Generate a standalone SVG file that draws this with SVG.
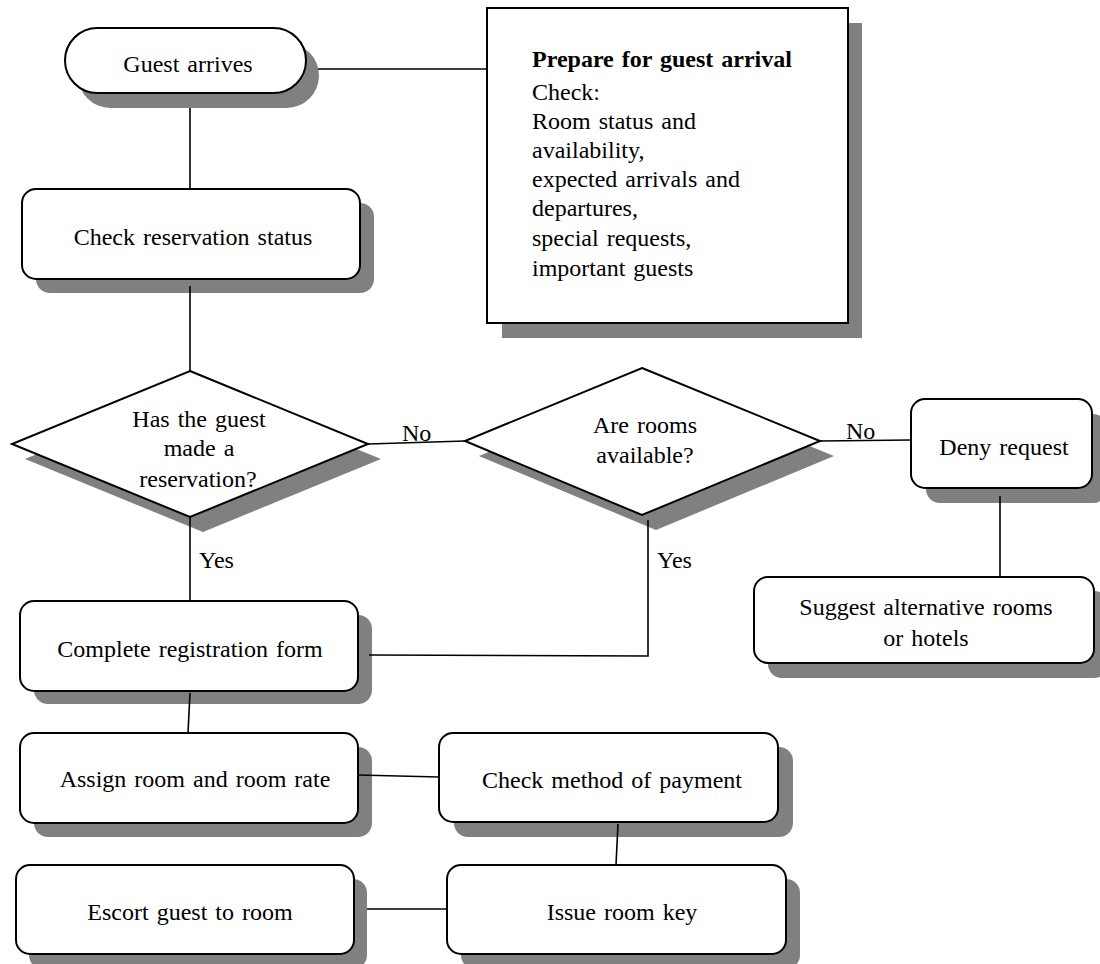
<svg xmlns="http://www.w3.org/2000/svg" width="1100" height="964" viewBox="0 0 1100 964">
<style>
.sh{fill:#808080;stroke:none}
.bx{fill:#fff;stroke:#000;stroke-width:2}
.t{font-family:"Liberation Serif","Times New Roman",serif;font-size:24px;fill:#000;word-spacing:2px}
.c{text-anchor:middle}
.b{font-weight:bold}
.ln{stroke:#000;stroke-width:1.6;fill:none}
</style>
<rect width="1100" height="964" fill="#fff"/>
<g id="guest-arrives">
<rect class="sh" x="78" y="43" width="241" height="65" rx="32.5"/>
<rect class="bx" x="65" y="28" width="241" height="65" rx="32.5"/>
<text class="t c" x="188" y="72">Guest arrives</text>
</g>
<g id="prepare">
<rect class="sh" x="502" y="23" width="360" height="315"/>
<rect class="bx" x="487" y="8" width="361" height="315"/>
<text class="t b" x="532" y="67">Prepare for guest arrival</text>
<text class="t" x="532" y="100">Check:</text>
<text class="t" x="532" y="129">Room status and</text>
<text class="t" x="532" y="158">availability,</text>
<text class="t" x="532" y="187">expected arrivals and</text>
<text class="t" x="532" y="216">departures,</text>
<text class="t" x="532" y="246">special requests,</text>
<text class="t" x="532" y="276">important guests</text>
</g>
<g id="check-reservation">
<rect class="sh" x="36" y="203" width="338" height="90" rx="14"/>
<rect class="bx" x="22" y="189" width="338" height="90" rx="14"/>
<text class="t c" x="193" y="245">Check reservation status</text>
</g>
<g id="decision-reservation">
<polygon class="sh" points="203,386 381,459 203,532 25,459"/>
<polygon class="bx" points="190,371 368,444 190,517 12,444"/>
<text class="t c" x="199" y="427">Has the guest</text>
<text class="t c" x="199" y="456">made a</text>
<text class="t c" x="198" y="487">reservation?</text>
</g>
<g id="decision-rooms">
<polygon class="sh" points="656,383 834,456 656,530 479,456"/>
<polygon class="bx" points="642,368 820,441 642,515 465,441"/>
<text class="t c" x="645" y="433">Are rooms</text>
<text class="t c" x="645" y="463">available?</text>
</g>
<g id="deny">
<rect class="sh" x="926" y="414" width="181" height="89" rx="14"/>
<rect class="bx" x="911" y="399" width="181" height="89" rx="14"/>
<text class="t c" x="1004" y="455">Deny request</text>
</g>
<g id="suggest">
<rect class="sh" x="768" y="591" width="340" height="87" rx="14"/>
<rect class="bx" x="754" y="577" width="340" height="86" rx="14"/>
<text class="t c" x="926" y="615">Suggest alternative rooms</text>
<text class="t c" x="926" y="646">or hotels</text>
</g>
<g id="complete-form">
<rect class="sh" x="34" y="615" width="338" height="89" rx="14"/>
<rect class="bx" x="20" y="601" width="338" height="90" rx="14"/>
<text class="t c" x="190" y="657">Complete registration form</text>
</g>
<g id="assign-room">
<rect class="sh" x="34" y="747" width="338" height="90" rx="14"/>
<rect class="bx" x="20" y="733" width="338" height="90" rx="14"/>
<text class="t c" x="195" y="787">Assign room and room rate</text>
</g>
<g id="check-payment">
<rect class="sh" x="454" y="747" width="339" height="90" rx="14"/>
<rect class="bx" x="439" y="733" width="339" height="89" rx="14"/>
<text class="t c" x="612" y="788">Check method of payment</text>
</g>
<g id="escort">
<rect class="sh" x="29" y="879" width="338" height="90" rx="14"/>
<rect class="bx" x="16" y="865" width="338" height="89" rx="14"/>
<text class="t c" x="190" y="920">Escort guest to room</text>
</g>
<g id="issue-key">
<rect class="sh" x="461" y="879" width="339" height="90" rx="14"/>
<rect class="bx" x="447" y="865" width="339" height="89" rx="14"/>
<text class="t c" x="622" y="920">Issue room key</text>
</g>
<g id="connectors">
<line class="ln" x1="318" y1="69" x2="487" y2="69"/>
<line class="ln" x1="190" y1="108" x2="190" y2="189"/>
<line class="ln" x1="190" y1="286" x2="190" y2="371"/>
<line class="ln" x1="368" y1="444" x2="465" y2="441"/>
<line class="ln" x1="820" y1="441" x2="911" y2="440"/>
<line class="ln" x1="1000" y1="496" x2="1000" y2="577"/>
<line class="ln" x1="190" y1="517" x2="190" y2="601"/>
<polyline class="ln" points="648,520 648,656 369,655"/>
<line class="ln" x1="190" y1="693" x2="188" y2="733"/>
<line class="ln" x1="358" y1="775" x2="439" y2="777"/>
<line class="ln" x1="618" y1="824" x2="616" y2="865"/>
<line class="ln" x1="367" y1="909" x2="447" y2="909"/>
<text class="t" x="402" y="441">No</text>
<text class="t" x="846" y="439">No</text>
<text class="t" x="199" y="568">Yes</text>
<text class="t" x="657" y="568">Yes</text>
</g>
</svg>
